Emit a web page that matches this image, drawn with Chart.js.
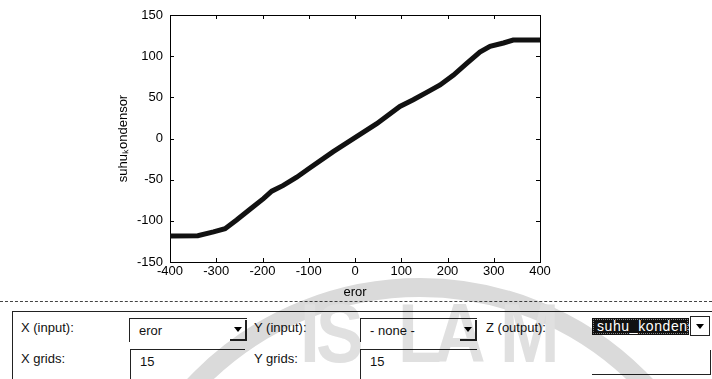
<!DOCTYPE html>
<html>
<head>
<meta charset="utf-8">
<script src="https://cdn.jsdelivr.net/npm/chart.js@4.4.1/dist/chart.umd.min.js"></script>
<style>
  body { margin: 0; width: 712px; height: 379px; overflow: hidden; background: #fff; position: relative;
         font-family: "Liberation Sans", Arial, sans-serif; font-size: 13px; color: #111; }
  #plot { position: absolute; left: 0; top: 0; width: 712px; height: 300px; }
  .sep { position: absolute; left: 0; top: 301px; width: 712px; border-top: 1px dashed #444; }
  .panel { position: absolute; left: 12px; top: 311px; width: 720px; height: 90px;
           border-top: 1px solid #222; border-left: 1px solid #222; }
  .lbl { position: absolute; line-height: 15px; white-space: nowrap; }
  .box { position: absolute; background: #fff; box-sizing: border-box;
         border-top: 1px solid #222; border-left: 1px solid #222; }
  .box span { position: absolute; left: 9px; top: 4px; line-height: 15px; }
  .arrow { position: absolute; right: 0; top: 1px; width: 17px; height: 21px; box-sizing: border-box;
           border-right: 2px solid #222; border-bottom: 2px solid #222; }
  .arrow::after { content: ""; position: absolute; left: 4px; top: 7px; border-left: 4px solid transparent;
                  border-right: 4px solid transparent; border-top: 5px solid #000; }
  .zsel { position: absolute; left: 592px; top: 318px; width: 97px; height: 17px; background: #111;
          color: #fff; outline: 1px dotted #888; outline-offset: -2px; overflow: hidden;
          font-size: 14px; letter-spacing: 0.6px; }
  .zsel span { position: absolute; left: 5px; top: 0; line-height: 16px; white-space: nowrap; }
  .zarrow { position: absolute; left: 690px; top: 316px; width: 20px; height: 20px; box-sizing: border-box;
            border: 1px solid #222; background: #fff; }
  .zarrow::after { content: ""; position: absolute; left: 5px; top: 7px; border-left: 4px solid transparent;
                   border-right: 4px solid transparent; border-top: 5px solid #000; }
  .zedit { position: absolute; left: 592px; top: 350px; width: 119px; height: 25px; box-sizing: border-box;
           border-right: 1px solid #222; border-bottom: 1px solid #222; }
  .wm { position: absolute; left: 0; top: 0; width: 712px; height: 379px; overflow: hidden;
        pointer-events: none; mix-blend-mode: multiply; }
  .ring { position: absolute; left: 101px; top: 278px; width: 638px; height: 638px; box-sizing: border-box;
          border: 19px solid #dadada; border-radius: 50%; }
  .wm b { position: absolute; top: 291px; font: bold 84px/84px "Liberation Sans", Arial, sans-serif; color: #e0e0e0;
          transform: scaleX(0.85); transform-origin: left top; }
</style>
</head>
<body>
<div id="plot"><canvas id="myChart"></canvas></div>

<div class="sep"></div>
<div class="panel"></div>

<div class="lbl" style="left:21px; top:320px">X (input):</div>
<div class="box" style="left:129px; top:318px; width:118px; height:24px"><span>eror</span><div class="arrow"></div></div>
<div class="lbl" style="left:254px; top:320px">Y (input):</div>
<div class="box" style="left:360px; top:318px; width:117px; height:24px"><span>- none -</span><div class="arrow"></div></div>
<div class="lbl" style="left:486px; top:320px">Z (output):</div>
<div class="zsel"><span>suhu_kondensor</span></div>
<div class="zarrow"></div>

<div class="lbl" style="left:21px; top:351px">X grids:</div>
<div class="box" style="left:130px; top:349px; width:115px; height:40px"><span>15</span></div>
<div class="lbl" style="left:254px; top:351px">Y grids:</div>
<div class="box" style="left:360px; top:349px; width:117px; height:40px"><span>15</span></div>
<div class="zedit"></div>

<div class="wm">
  <div class="ring"></div>
  <b style="left:300px">I</b><b style="left:316px">S</b><b style="left:398px">L</b><b style="left:434px">A</b><b style="left:500px">M</b>
</div>

<script>
// values (eror -> suhu_kondensor)
const eror = [-400, -340, -306, -281, -256, -227, -198, -180, -155, -126, -101, -47, 0,
  47, 97, 126, 158, 184, 213, 241, 270, 292, 321, 342, 400];
const suhuKondensor = [-118.5, -118, -113.5, -109.5, -99, -86, -73, -64, -57, -47, -37, -16, 1,
  18, 39, 47, 57, 65, 77, 91, 105, 112, 116, 119.5, 119.5];

const xTicks = [-400, -300, -200, -100, 0, 100, 200, 300, 400];
const yTicks = [-150, -100, -50, 0, 50, 100, 150];

const font = { family: "'Liberation Sans', Arial, sans-serif", size: 13 };

// matlab style box with ticks pointing inwards
const axesBox = {
  id: "axesBox",
  beforeDatasetsDraw(chart) {
    const { ctx, chartArea: a, scales } = chart;
    ctx.save();
    ctx.strokeStyle = "#000";
    ctx.lineWidth = 1;
    ctx.strokeRect(a.left + 0.5, a.top + 0.5, a.right - a.left, a.bottom - a.top);
    ctx.beginPath();
    xTicks.forEach((v) => {
      const px = Math.round(scales.x.getPixelForValue(v)) + 0.5;
      ctx.moveTo(px, a.bottom);
      ctx.lineTo(px, a.bottom - 4);
      ctx.moveTo(px, a.top);
      ctx.lineTo(px, a.top + 4);
    });
    yTicks.forEach((v) => {
      const py = Math.round(scales.y.getPixelForValue(v)) + 0.5;
      ctx.moveTo(a.left, py);
      ctx.lineTo(a.left + 4, py);
      ctx.moveTo(a.right, py);
      ctx.lineTo(a.right - 4, py);
    });
    ctx.stroke();
    ctx.restore();
  },
};

const cfg = {
  type: "line",
  data: {
    datasets: [
      {
        data: eror.map((x, i) => ({ x: x, y: suhuKondensor[i] })),
        borderColor: "#111",
        borderWidth: 5,
        pointRadius: 0,
        tension: 0,
        fill: false,
      },
    ],
  },
  options: {
    responsive: true,
    maintainAspectRatio: false,
    animation: false,
    layout: { padding: { left: 116, right: 172, top: 15, bottom: 0 } },
    plugins: { legend: { display: false }, tooltip: { enabled: false } },
    scales: {
      x: {
        type: "linear",
        min: -400,
        max: 400,
        afterFit: (s) => { s.height = 38; },
        afterBuildTicks: (s) => { s.ticks = xTicks.map((v) => ({ value: v })); },
        grid: { display: false, drawTicks: false },
        border: { display: false },
        ticks: { color: "#000", font: font, padding: 2, maxRotation: 0 },
        title: { display: true, text: "eror", color: "#000", font: font, padding: 0 },
      },
      y: {
        min: -150,
        max: 150,
        afterFit: (s) => { s.width = 54; },
        afterBuildTicks: (s) => { s.ticks = yTicks.map((v) => ({ value: v })); },
        grid: { display: false, drawTicks: false },
        border: { display: false },
        ticks: { color: "#000", font: font, padding: 7 },
        title: { display: true, text: "suhuₖondensor", color: "#000", font: font, padding: 0 },
      },
    },
  },
  plugins: [axesBox],
};

new Chart(document.getElementById("myChart"), cfg);
</script>
</body>
</html>
